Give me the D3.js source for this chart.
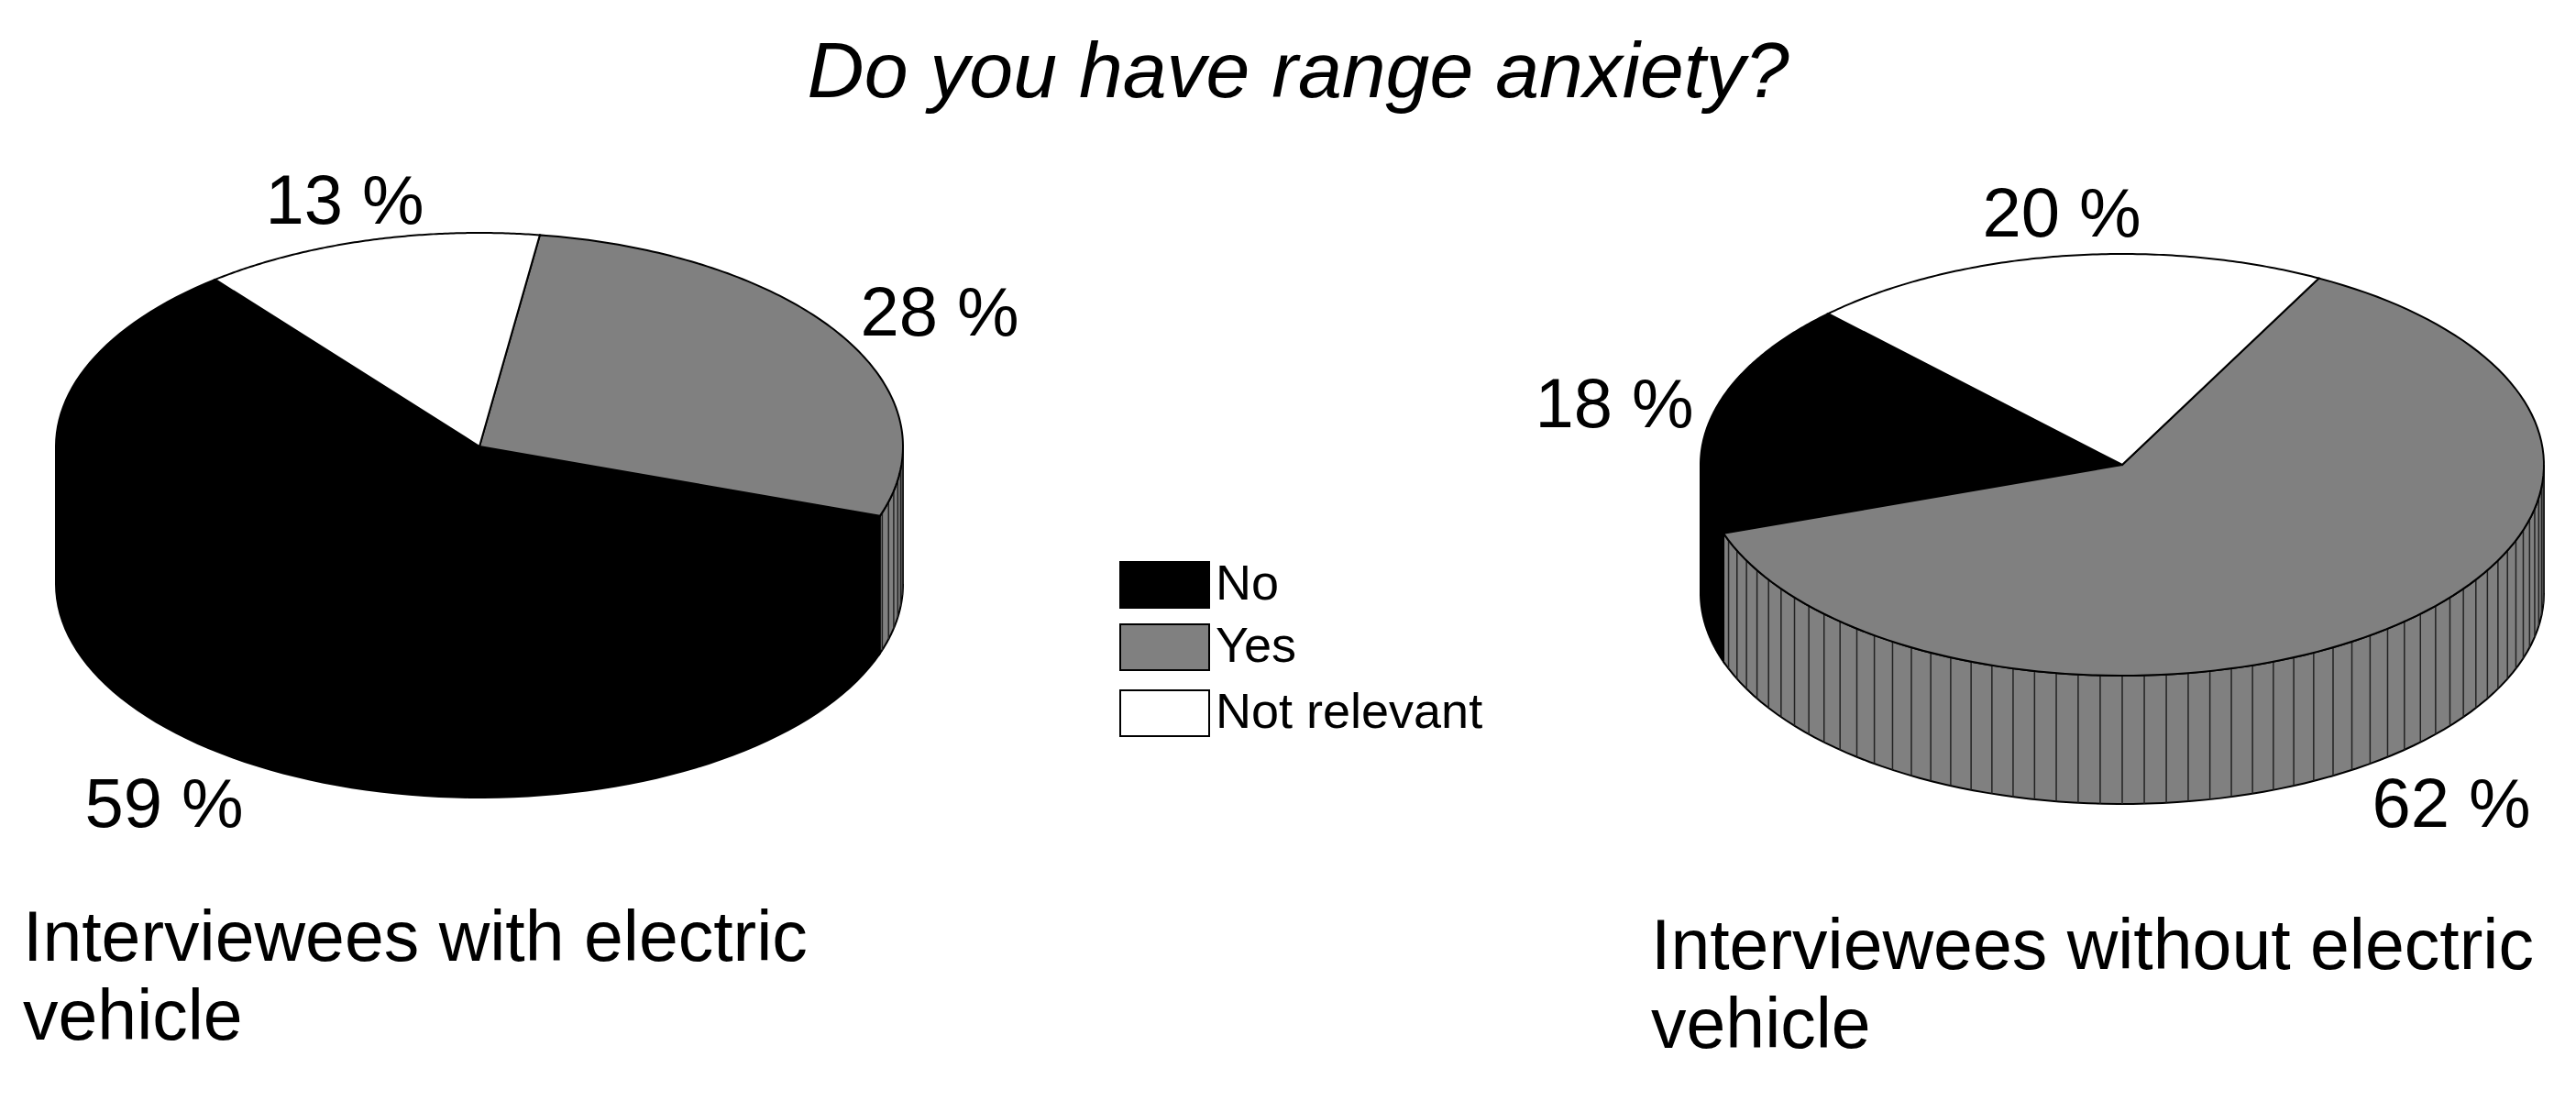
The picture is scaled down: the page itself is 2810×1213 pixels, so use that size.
<!DOCTYPE html>
<html><head><meta charset="utf-8">
<script src="https://cdn.jsdelivr.net/npm/d3@7"></script>
<style>body{margin:0;background:#fff}</style></head>
<body><svg id="c" width="2810" height="1213"></svg>
<script>
const categories = ["No", "Yes", "Not relevant"];
const withEV = [59, 28, 13];
const withoutEV = [18, 62, 20];
const labelsWith = ["59 %", "28 %", "13 %"];
const labelsWithout = ["18 %", "62 %", "20 %"];
const subtitles = [["Interviewees with electric","vehicle"],["Interviewees without electric","vehicle"]];
const title = "Do you have range anxiety?";
const drawOrder = ["No", "Not relevant", "Yes"];

const colors = d3.scaleOrdinal().domain(categories).range(["#000000","#808080","#ffffff"]);
const svg = d3.select("#c");
const font = "Liberation Sans, Arial, sans-serif";

svg.append("text").attr("x",1416).attr("y",106).attr("text-anchor","middle")
  .attr("font-family",font).attr("font-style","italic").attr("font-size",86).text(title);

function pie3d(values, labels, cx, cy, rx, ry, depth, startDeg, labelPos){
  const g = svg.append("g");
  const pie = d3.pie().sort((a,b)=>drawOrder.indexOf(a.cat)-drawOrder.indexOf(b.cat)).value(d=>d.v)
    .startAngle(startDeg*Math.PI/180).endAngle(startDeg*Math.PI/180+2*Math.PI);
  const arcs = pie(values.map((v,i)=>({v, cat:categories[i]}))).map(d=>({...d, cat:d.data.cat}));
  const pt = (a, dy=0)=>[cx+rx*Math.sin(a), cy-ry*Math.cos(a)+dy];
  arcs.forEach(d=>{
    let a1=d.startAngle, a2=d.endAngle;
    for(let k=-1;k<=2;k++){
      const lo=Math.max(a1, Math.PI/2+2*Math.PI*k), hi=Math.min(a2, 3*Math.PI/2+2*Math.PI*k);
      if(hi>lo){
        const n=80, top=[], bot=[];
        for(let j=0;j<=n;j++){const a=lo+(hi-lo)*j/n; top.push(pt(a)); bot.push(pt(a,depth));}
        const p=d3.path(); p.moveTo(...top[0]); top.forEach(q=>p.lineTo(...q));
        bot.reverse().forEach(q=>p.lineTo(...q)); p.closePath();
        g.append("path").attr("d",p.toString()).attr("fill",colors(d.cat)).attr("stroke","#000").attr("stroke-width",2);
        if(d.cat!=="No"){
          const step=Math.PI/60;
          for(let a=Math.ceil(lo/step)*step;a<hi;a+=step){
            const [x,y]=pt(a);
            g.append("line").attr("x1",x).attr("x2",x).attr("y1",y).attr("y2",y+depth).attr("stroke","#222").attr("stroke-width",1.5);
          }
        }
      }
    }
  });
  arcs.forEach(d=>{
    const n=120, p=d3.path(); p.moveTo(cx,cy);
    for(let j=0;j<=n;j++){const a=d.startAngle+(d.endAngle-d.startAngle)*j/n; p.lineTo(...pt(a));}
    p.closePath();
    g.append("path").attr("d",p.toString()).attr("fill",colors(d.cat)).attr("stroke","#000").attr("stroke-width",2);
  });
  labels.forEach((t,i)=>{
    g.append("text").attr("x",labelPos[i][0]).attr("y",labelPos[i][1]).attr("text-anchor","middle")
     .attr("dominant-baseline","middle").attr("font-family",font).attr("font-size",76).text(t);
  });
}
pie3d(withEV, labelsWith, 523, 487, 462, 233, 150, 109, [[179,882],[1025,346],[376,224]]);
pie3d(withoutEV, labelsWithout, 2315, 507, 460, 230, 140, 251-360, [[1761,446],[2674,882],[2249,238]]);

const ly=[613,681,753];
categories.forEach((c,i)=>{
  svg.append("rect").attr("x",1222).attr("y",ly[i]).attr("width",97).attr("height",50)
    .attr("fill",colors(c)).attr("stroke","#000").attr("stroke-width",2);
  svg.append("text").attr("x",1326).attr("y",ly[i]+27).attr("dominant-baseline","middle")
    .attr("font-family",font).attr("font-size",54).text(c);
});
[[25,1048],[1801,1057]].forEach((p,i)=>{
  subtitles[i].forEach((t,j)=>svg.append("text").attr("x",p[0]).attr("y",p[1]+j*86)
    .attr("font-family",font).attr("font-size",77).text(t));
});
</script></body></html>
